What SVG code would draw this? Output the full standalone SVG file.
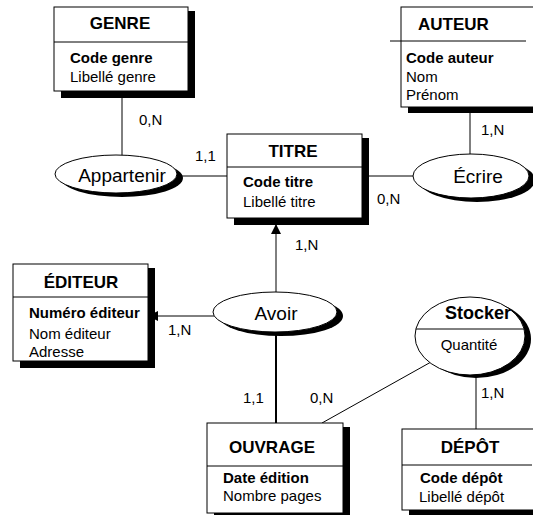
<svg xmlns="http://www.w3.org/2000/svg" width="533" height="515" viewBox="0 0 533 515">
  <style>
    .box { fill: #fff; stroke: #000; stroke-width: 1; }
    .shadow { fill: #000; }
    .sep { stroke: #000; stroke-width: 1; }
    .head { font-family: "Liberation Sans", Arial, sans-serif; font-size: 17px; font-weight: bold; fill: #000; }
    .key { font-family: "Liberation Sans", Arial, sans-serif; font-size: 15px; font-weight: bold; fill: #000; }
    .attr { font-family: "Liberation Sans", Arial, sans-serif; font-size: 15px; fill: #000; }
    .rel { font-family: "Liberation Sans", Arial, sans-serif; font-size: 19px; fill: #000; }
    .card { font-family: "Liberation Sans", Arial, sans-serif; font-size: 15px; fill: #000; }
    .link { stroke: #000; stroke-width: 1; fill: none; }
  </style>
  <defs>
    <marker id="arrow" viewBox="0 0 10 10" refX="10" refY="5" markerWidth="10" markerHeight="10" markerUnits="userSpaceOnUse" orient="auto">
      <path d="M0,0 L10,5 L0,10 z" fill="#000"/>
    </marker>
  </defs>
  <rect width="533" height="515" fill="#fff"/>

  <!-- connectors -->
  <g id="connectors">
    <line class="link" x1="122" y1="91" x2="122" y2="156"/>
    <line class="link" x1="178" y1="176" x2="227" y2="176"/>
    <line class="link" x1="362" y1="176" x2="414" y2="176"/>
    <line class="link" x1="470" y1="107" x2="470" y2="154"/>
    <line class="link" x1="276" y1="292" x2="276" y2="224" marker-end="url(#arrow)"/>
    <line class="link" x1="214" y1="316" x2="148" y2="316" marker-end="url(#arrow)"/>
    <line class="link" x1="276" y1="332" x2="276" y2="423" style="stroke-width:2"/>
    <line class="link" x1="431" y1="362" x2="322" y2="423"/>
    <line class="link" x1="476" y1="374" x2="476" y2="429"/>
    <text class="card" x="139" y="125">0,N</text>
    <text class="card" x="195" y="161">1,1</text>
    <text class="card" x="481" y="135">1,N</text>
    <text class="card" x="377" y="204">0,N</text>
    <text class="card" x="295" y="250">1,N</text>
    <text class="card" x="168" y="335">1,N</text>
    <text class="card" x="243" y="403">1,1</text>
    <text class="card" x="310" y="403">0,N</text>
    <text class="card" x="481" y="398">1,N</text>
  </g>

  <!-- entities -->
  <g id="genre">
    <rect class="shadow" x="61" y="11" width="134" height="87"/>
    <rect class="box" x="54" y="7" width="134" height="84"/>
    <line class="sep" x1="54" y1="42" x2="188" y2="42"/>
    <text class="head" x="120" y="29" text-anchor="middle">GENRE</text>
    <text class="key" x="70" y="63">Code genre</text>
    <text class="attr" x="70" y="82">Libellé genre</text>
  </g>

  <g id="auteur">
    <rect class="shadow" x="408" y="11" width="140" height="102"/>
    <rect class="box" x="401" y="7" width="140" height="100"/>
    <line class="sep" x1="390" y1="41" x2="526" y2="41"/>
    <text class="head" x="418" y="30">AUTEUR</text>
    <text class="key" x="406" y="63">Code auteur</text>
    <text class="attr" x="406" y="82">Nom</text>
    <text class="attr" x="406" y="100">Prénom</text>
  </g>

  <g id="titre">
    <rect class="shadow" x="234" y="138" width="135" height="87"/>
    <rect class="box" x="227" y="134" width="135" height="84"/>
    <line class="sep" x1="227" y1="167" x2="362" y2="167"/>
    <text class="head" x="293" y="157" text-anchor="middle">TITRE</text>
    <text class="key" x="243" y="187">Code titre</text>
    <text class="attr" x="243" y="207">Libellé titre</text>
  </g>

  <g id="editeur">
    <rect class="shadow" x="20" y="268" width="135" height="100"/>
    <rect class="box" x="13" y="264" width="135" height="97"/>
    <line class="sep" x1="13" y1="297" x2="148" y2="297"/>
    <text class="head" x="81" y="288" text-anchor="middle">ÉDITEUR</text>
    <text class="key" x="29" y="318">Numéro éditeur</text>
    <text class="attr" x="29" y="339">Nom éditeur</text>
    <text class="attr" x="29" y="357">Adresse</text>
  </g>

  <g id="ouvrage">
    <rect class="shadow" x="214" y="427" width="136" height="93"/>
    <rect class="box" x="207" y="423" width="136" height="90"/>
    <line class="sep" x1="207" y1="466" x2="343" y2="466"/>
    <text class="head" x="272" y="453" text-anchor="middle">OUVRAGE</text>
    <text class="key" x="223" y="483">Date édition</text>
    <text class="attr" x="223" y="501">Nombre pages</text>
  </g>

  <g id="depot">
    <rect class="shadow" x="409" y="433" width="140" height="84"/>
    <rect class="box" x="402" y="429" width="140" height="81"/>
    <line class="sep" x1="402" y1="465" x2="532" y2="465"/>
    <text class="head" x="470" y="453" text-anchor="middle">DÉPÔT</text>
    <text class="key" x="420" y="483">Code dépôt</text>
    <text class="attr" x="419" y="502">Libellé dépôt</text>
  </g>

  <!-- associations -->
  <g id="appartenir">
    <ellipse class="shadow" cx="122" cy="178" rx="61" ry="19"/>
    <ellipse class="box" cx="116" cy="174" rx="61" ry="19"/>
    <text class="rel" x="122" y="182" text-anchor="middle">Appartenir</text>
  </g>

  <g id="ecrire">
    <ellipse class="shadow" cx="477" cy="180" rx="58" ry="22"/>
    <ellipse class="box" cx="471" cy="176" rx="58" ry="22"/>
    <text class="rel" x="478" y="183" text-anchor="middle">Écrire</text>
  </g>

  <g id="avoir">
    <ellipse class="shadow" cx="281" cy="316" rx="62" ry="20"/>
    <ellipse class="box" cx="275" cy="312" rx="62" ry="20"/>
    <text class="rel" x="276" y="320" text-anchor="middle">Avoir</text>
  </g>

  <g id="stocker">
    <ellipse class="shadow" cx="476" cy="339" rx="55" ry="39"/>
    <ellipse class="box" cx="470" cy="336" rx="55" ry="39"/>
    <line class="sep" x1="416" y1="329" x2="524" y2="329"/>
    <text class="head" x="478" y="319" text-anchor="middle" style="font-size:18px">Stocker</text>
    <text class="attr" x="469" y="350" text-anchor="middle">Quantité</text>
  </g>
</svg>
